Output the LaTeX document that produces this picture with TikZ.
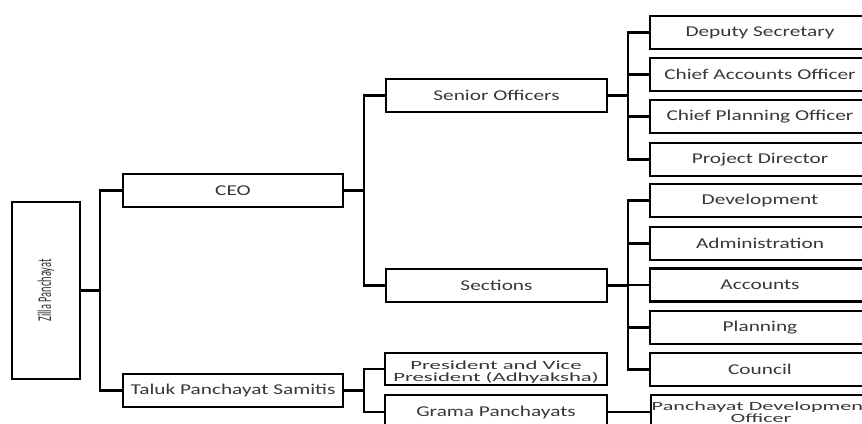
\documentclass[tikz,border=0pt]{standalone}
\usepackage{fontspec}
\setmainfont{Carlito}[FakeStretch=1.42]
\newfontfamily\zfont{Carlito}
\newcommand\twoline[2]{\smash{\scalebox{1.28}[1]{\begin{tabular}[t]{@{}c@{}}#1\\#2\end{tabular}}}}
\begin{document}
\begin{tikzpicture}[x=1pt,y=-1pt,
  box/.style={draw=black, line width=2.1pt, minimum width=220pt, minimum height=33pt,
    inner sep=0pt, align=center, font=\fontsize{15}{12}\selectfont, text=black!78},
  twofont/.style={font=\fontsize{12.5}{12}\selectfont},
  conn/.style={line width=2.2pt}]
\clip (0,0) rectangle (862,423);
\fill[white] (0,0) rectangle (862,423);
% root
\node[box, minimum width=68pt, minimum height=177pt] (zp) at (46,290.5)
  {\rotatebox{90}{\zfont\fontsize{13}{13}\selectfont\scalebox{0.8}[1.5]{Zilla Panchayat}}};
% level 1
\node[box] (ceo) at (233,190.5) {CEO};
\node[box] (tps) at (233,390.5) {Taluk Panchayat Samitis};
% level 2
\node[box, minimum width=221pt] (so) at (496.5,95.5) {Senior Officers};
\node[box, minimum width=221pt] (sec) at (496.5,285.5) {Sections};
\node[box, minimum width=222pt, minimum height=32pt, twofont] (pres) at (496,369)
  {\twoline{President and Vice}{President (Adhyaksha)}};
\node[box, minimum width=222pt, minimum height=34pt] (gp) at (496,412) {Grama Panchayats};
% level 3
\node[box] (ds) at (760,32.5) {Deputy Secretary};
\node[box] (cao) at (760,74.5) {Chief Accounts Officer};
\node[box] (cpo) at (760,116.5) {Chief Planning Officer};
\node[box] (pd) at (760,159.5) {Project Director};
\node[box] (dev) at (760,200.5) {Development};
\node[box] (adm) at (760,243.5) {Administration};
\node[box] (acc) at (760,285) {Accounts};
\node[box] (pln) at (760,327.5) {Planning};
\node[box] (cou) at (760,369.5) {Council};
\node[box, minimum height=34pt, font=\fontsize{12.5}{11.5}\selectfont, anchor=west] (pdo) at (650,412)
  {\makebox[220pt][c]{\raisebox{3pt}{\smash{\scalebox{1.25}[1]{\begin{tabular}[t]{@{}c@{}}Panchayat Development\\Officer\end{tabular}}}}}};
% bus lines
\coordinate (b1) at (100,0);
\coordinate (b2) at (364,0);
\coordinate (b3) at (628,0);
\draw[conn] (zp.east) -- (zp.east -| b1) |- (ceo.west);
\draw[conn] (zp.east -| b1) |- (tps.west);
\draw[conn] (ceo.east) -- (ceo.east -| b2) |- (so.west);
\draw[conn] (ceo.east -| b2) |- (sec.west);
\draw[conn] (tps.east) -- (tps.east -| b2) |- (pres.west);
\draw[conn] (tps.east -| b2) |- (gp.west);
\draw[conn] (so.east) -- (so.east -| b3);
\draw[conn] (ds.west) -| (b3 |- pd.west) -- (pd.west);
\draw[conn] (cao.west) -- (cao.west -| b3);
\draw[conn] (cpo.west) -- (cpo.west -| b3);
\draw[conn] (sec.east) -- (sec.east -| b3);
\draw[conn] (dev.west) -| (b3 |- cou.west) -- (cou.west);
\draw[conn] (adm.west) -- (adm.west -| b3);
\draw[conn] (acc.west) -- (acc.west -| b3);
\draw[conn] (pln.west) -- (pln.west -| b3);
\draw[conn] (gp.east) -- (pdo.west);
\end{tikzpicture}
\end{document}
